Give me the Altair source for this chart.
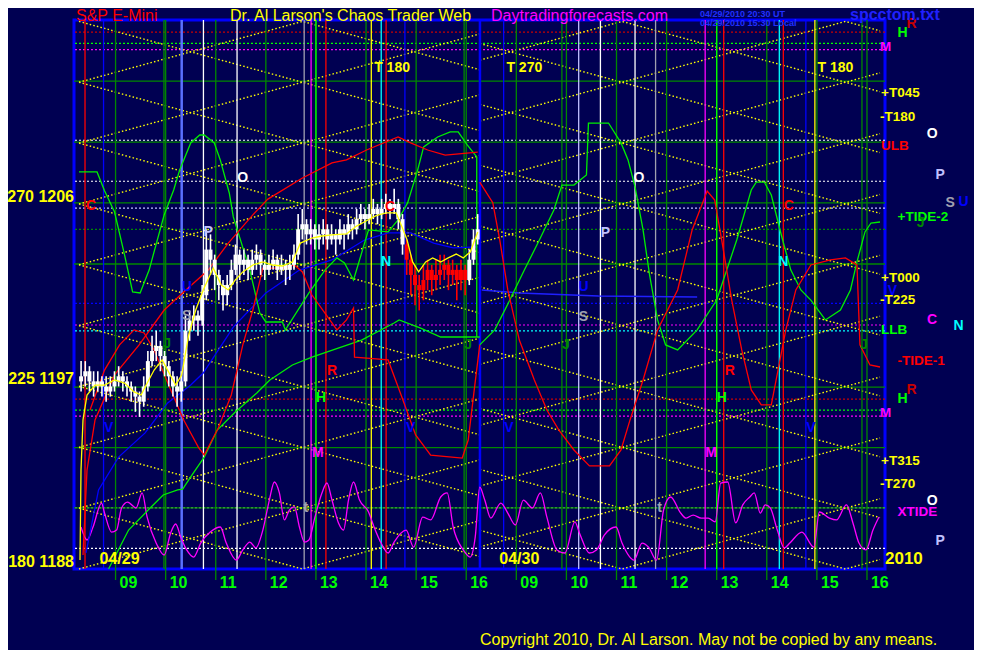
import altair as alt
import pandas as pd
import numpy as np

# ---------------------------------------------------------------- data
# time axis: hours after 09:00 on 04/29; the 04/30 session follows at +8 h
X_DOMAIN = [-0.73, 15.26]
Y_DOMAIN = [1188.0, 1215.07]

hour_ticks = list(range(16))
hour_labels = ["09", "10", "11", "12", "13", "14", "15", "16",
               "09", "10", "11", "12", "13", "14", "15", "16"]

price_levels = [1206, 1197, 1188]
price_labels = ["270 1206", "225 1197", "180 1188"]

# vertical timing lines
vline_time = [-0.61, -0.24, 0.966, 1.754, 2.425, 3.765, 3.903, 4.0, 4.199,
              5.105, 5.303, 5.401, 5.776, 6.958, 7.747, 8.91, 9.245, 9.679,
              10.37, 10.78, 11.77, 12.0, 12.14, 13.25, 13.33, 13.78, 13.96, 14.9]
vline_kind = ["red", "blue", "green", "white", "white", "grey", "mag", "lgreen", "red",
              "yel", "cyan", "red", "blue", "green", "blue", "green", "lav", "white",
              "white", "grey", "mag", "lgreen", "red", "cyan", "red", "blue", "yel", "green"]
vline_thick_time = [1.32, 7.274]
vline_thick_kind = ["lblue", "blue"]

# horizontal levels
hline_price = [1214.47, 1213.92, 1213.61, 1212.06, 1209.14, 1209.05, 1207.12, 1206.05,
               1205.79, 1204.75, 1203.04, 1201.10, 1200.03, 1199.74, 1196.97, 1196.38,
               1195.83, 1195.54, 1193.98, 1191.02, 1191.01, 1189.02]
hline_kind = ["dred", "lgreen", "mag", "green", "white", "green", "white", "green",
              "lav", "green", "green", "blue", "mag", "cyan", "green", "dred",
              "lgreen", "mag", "green", "white", "green", "white"]
hline_solid = [False, False, False, True, False, True, False, True,
               False, False, True, False, False, False, True, False,
               False, False, True, False, True, False]

# yellow cycle lattice
band_levels = [1188.0, 1191.0, 1194.0, 1197.0, 1200.0, 1203.0, 1206.0, 1209.0, 1212.0, 1215.0]
cycle_turns_day1 = [-0.73, 3.73, 8.19]
cycle_turns_day2 = [5.65, 10.11, 14.57, 19.03]
session_bounds = [(-0.73, 7.27), (7.27, 15.26)]

# 5-minute bars of 04/29
bar_first_open = 1197.25
bar_close = [1197.50, 1197.75, 1197.25, 1197.00, 1197.25, 1197.00, 1196.75, 1197.00, 1197.25, 1197.50,
             1197.25, 1197.00, 1196.75, 1196.50, 1196.25, 1197.00, 1198.25, 1198.75, 1199.00, 1198.50,
             1198.00, 1197.50, 1197.00, 1196.75, 1197.25, 1199.75, 1200.25, 1200.50, 1200.25, 1201.50,
             1203.75, 1203.25, 1202.50, 1202.00, 1201.50, 1202.00, 1202.75, 1203.50, 1203.00, 1203.25,
             1202.75, 1203.25, 1203.50, 1203.00, 1202.75, 1203.00, 1203.25, 1202.75, 1203.00, 1202.75,
             1203.00, 1203.50, 1204.75, 1205.00, 1204.50, 1204.75, 1204.25, 1204.50, 1204.75, 1204.25,
             1204.50, 1204.25, 1204.75, 1204.50, 1205.00, 1204.75, 1205.25, 1205.50, 1205.25, 1205.50,
             1205.75, 1205.50, 1205.75, 1206.00, 1205.75, 1206.00, 1205.25, 1204.00, 1203.25, 1202.50,
             1202.00, 1201.75, 1202.25, 1202.75, 1202.25, 1202.50, 1202.75, 1203.00, 1202.50, 1202.75,
             1202.25, 1202.75, 1202.25, 1203.25, 1204.25, 1204.75]
bar_high = [1198.25, 1198.25, 1198.00, 1197.75, 1197.75, 1197.50, 1197.50, 1197.50, 1197.75, 1198.00,
            1197.75, 1197.50, 1197.25, 1197.00, 1196.75, 1197.50, 1198.75, 1199.50, 1199.75, 1199.25,
            1198.75, 1198.25, 1197.75, 1197.50, 1197.75, 1200.50, 1200.75, 1201.00, 1200.75, 1202.00,
            1204.75, 1204.50, 1203.50, 1202.75, 1202.25, 1202.50, 1203.25, 1204.00, 1203.75, 1203.75,
            1203.50, 1203.75, 1204.00, 1203.75, 1203.25, 1203.50, 1203.75, 1203.50, 1203.50, 1203.25,
            1203.50, 1204.00, 1205.50, 1205.75, 1205.25, 1205.25, 1205.00, 1205.00, 1205.25, 1205.00,
            1205.00, 1204.75, 1205.25, 1205.00, 1205.50, 1205.25, 1205.75, 1206.00, 1205.75, 1206.00,
            1206.25, 1206.00, 1206.25, 1206.50, 1206.25, 1206.75, 1206.25, 1205.50, 1204.25, 1203.50,
            1203.00, 1202.50, 1203.00, 1203.25, 1203.00, 1203.25, 1203.50, 1203.50, 1203.25, 1203.25,
            1203.00, 1203.25, 1203.00, 1203.75, 1204.75, 1205.50]
bar_low = [1196.75, 1197.00, 1196.75, 1196.50, 1196.75, 1196.50, 1196.25, 1196.50, 1196.75, 1197.00,
           1196.75, 1196.50, 1196.25, 1195.75, 1195.50, 1196.00, 1196.75, 1198.00, 1198.25, 1197.75,
           1197.50, 1197.00, 1196.50, 1196.00, 1196.25, 1197.00, 1199.25, 1199.75, 1199.50, 1200.00,
           1201.25, 1202.50, 1201.75, 1201.25, 1200.75, 1201.00, 1201.75, 1202.50, 1202.25, 1202.50,
           1202.25, 1202.50, 1202.75, 1202.50, 1202.25, 1202.50, 1202.75, 1202.25, 1202.50, 1202.00,
           1202.25, 1202.75, 1203.25, 1204.25, 1204.00, 1204.00, 1203.75, 1203.75, 1204.00, 1203.75,
           1204.00, 1203.50, 1204.00, 1203.75, 1204.25, 1204.25, 1204.50, 1205.00, 1204.75, 1205.00,
           1205.25, 1205.00, 1205.25, 1205.50, 1205.25, 1205.50, 1204.75, 1203.50, 1202.50, 1201.50,
           1201.00, 1200.75, 1201.25, 1201.75, 1201.50, 1201.75, 1202.00, 1202.25, 1201.75, 1202.00,
           1201.25, 1201.75, 1201.50, 1202.00, 1203.00, 1204.00]
RED_BARS = (78, 92)

# moving average over the bars
ma_t = [-0.71, -0.69, -0.65, -0.57, -0.41, -0.22, -0.02, 0.18, 0.37, 0.51, 0.61, 0.77, 0.93, 1.06,
        1.20, 1.32, 1.46, 1.60, 1.75, 1.95, 2.11, 2.25, 2.39, 2.54, 2.74, 2.94, 3.13, 3.33, 3.53,
        3.69, 3.92, 4.12, 4.32, 4.61, 4.81, 5.01, 5.20, 5.40, 5.60, 5.70, 5.82, 5.93, 6.05, 6.19,
        6.33, 6.49, 6.64, 6.80, 6.94, 7.08, 7.23]
ma_p = [1188.44, 1192.88, 1195.35, 1196.58, 1197.07, 1197.07, 1197.32, 1197.17, 1196.73, 1196.58,
        1197.07, 1197.81, 1198.31, 1197.71, 1197.07, 1197.57, 1199.54, 1200.77, 1201.76, 1202.84,
        1202.00, 1201.76, 1202.25, 1202.65, 1202.99, 1203.14, 1202.99, 1202.94, 1203.14, 1204.07,
        1204.32, 1204.42, 1204.47, 1204.52, 1204.91, 1205.17, 1205.42, 1205.56, 1205.56, 1204.97,
        1204.22, 1203.14, 1202.65, 1203.14, 1203.34, 1203.14, 1203.34, 1203.53, 1203.34, 1203.63,
        1204.62]

red1_t = [-0.65, -0.57, -0.41, -0.02, 0.47, 0.97, 1.36, 1.85, 2.25, 2.74, 3.04, 3.73, 4.32, 4.61,
          5.01, 5.64, 5.89, 6.23, 6.58, 7.23]
red1_p = [1188.69, 1192.88, 1195.35, 1197.57, 1199.05, 1200.77, 1201.66, 1202.74, 1204.07, 1205.46,
          1206.24, 1207.28, 1208.02, 1208.17, 1208.66, 1209.30, 1209.01, 1208.66, 1208.41, 1208.56]

red2_t = [-0.51, -0.22, 0.08, 0.37, 0.57, 0.77, 1.06, 1.36, 1.66, 1.77, 2.05, 2.31, 2.54, 2.74,
          2.94, 3.33, 3.57, 3.73, 3.92, 4.18, 4.42, 4.61, 4.75, 4.77, 5.44, 5.70, 5.99, 6.29,
          6.92, 7.04, 7.16, 7.27]
red2_p = [1195.84, 1197.81, 1199.05, 1199.79, 1199.64, 1198.80, 1197.07, 1195.35, 1193.97, 1193.62,
          1194.95, 1196.58, 1199.05, 1200.77, 1202.84, 1202.84, 1202.99, 1202.65, 1201.51, 1200.62,
          1199.79, 1200.28, 1200.87, 1198.45, 1198.31, 1196.58, 1194.61, 1193.62, 1193.47, 1194.36,
          1196.83, 1199.05]

red3_t = [7.27, 7.53, 7.67, 7.83, 8.06, 8.36, 8.61, 8.85, 9.15, 9.46, 9.86, 10.09, 10.27, 10.53,
          10.82, 11.22, 11.51, 11.81, 11.96, 12.10, 12.30, 12.50, 12.69, 12.89, 13.09, 13.38,
          13.58, 13.88, 14.27, 14.57, 14.80, 14.86, 15.06, 15.26]
red3_p = [1207.08, 1206.06, 1204.22, 1201.76, 1199.29, 1197.32, 1195.84, 1194.85, 1193.87, 1193.08,
          1193.08, 1193.87, 1195.35, 1197.32, 1199.79, 1201.76, 1204.72, 1206.64, 1206.19, 1204.22,
          1201.26, 1198.80, 1196.83, 1196.09, 1196.09, 1199.79, 1201.76, 1202.99, 1203.24, 1203.34,
          1202.99, 1199.05, 1198.06, 1197.96]

green1_t = [-0.73, -0.37, -0.22, -0.02, 0.18, 0.34, 0.49, 0.67, 0.97, 1.16, 1.28, 1.50, 1.68, 1.77,
            1.97, 2.09, 2.27, 2.35, 2.68, 2.88, 3.00, 3.33, 3.39, 3.86, 4.18, 4.42, 4.57, 4.75,
            5.05, 5.44, 5.64, 5.83, 6.03, 6.15, 6.43, 6.68, 6.84, 7.02, 7.21, 7.21]
green1_p = [1207.58, 1207.58, 1206.65, 1205.60, 1203.48, 1201.66, 1201.61, 1202.74, 1205.46, 1206.69,
            1207.67, 1209.01, 1209.40, 1209.40, 1209.01, 1208.17, 1206.54, 1205.36, 1202.74, 1200.62,
            1200.18, 1200.18, 1199.79, 1201.61, 1202.74, 1203.34, 1203.09, 1202.25, 1204.72, 1204.62,
            1205.21, 1206.05, 1207.67, 1208.81, 1209.30, 1209.55, 1209.55, 1208.91, 1208.32, 1199.44]

green2_t = [7.27, 7.57, 7.87, 8.16, 8.46, 8.75, 8.91, 9.15, 9.40, 9.44, 9.84, 10.09, 10.23, 10.37,
            10.53, 10.66, 10.82, 10.98, 11.22, 11.61, 12.00, 12.40, 12.69, 12.79, 12.95, 13.09,
            13.29, 13.48, 13.68, 13.88, 14.17, 14.47, 14.67, 14.80, 14.96, 15.08, 15.26]
green2_p = [1199.05, 1199.79, 1201.26, 1202.74, 1204.22, 1205.70, 1206.93, 1206.93, 1207.43, 1209.99,
            1209.99, 1209.01, 1208.17, 1206.84, 1204.72, 1202.50, 1200.28, 1199.05, 1198.80, 1199.79,
            1201.26, 1204.22, 1206.69, 1207.08, 1207.08, 1206.44, 1204.47, 1202.74, 1201.76, 1201.26,
            1200.28, 1200.77, 1201.76, 1203.14, 1204.62, 1205.06, 1205.11]

green3_t = [-0.14, 0.26, 0.71, 0.95, 1.24, 1.34, 1.50, 1.77, 2.03, 2.37, 2.82, 3.08, 3.53, 3.92,
            4.91, 5.56, 5.66, 6.09, 6.49, 7.27]
green3_p = [1188.00, 1189.92, 1191.06, 1191.65, 1191.90, 1191.94, 1192.54, 1193.52, 1194.85, 1195.69,
            1196.68, 1197.32, 1198.06, 1198.45, 1199.29, 1200.13, 1200.28, 1199.88, 1199.44, 1199.44]

blue1_t = [-0.59, -0.34, 0.06, 0.59, 1.04, 1.50, 1.75, 2.35, 3.00, 3.67, 4.32, 4.97, 5.44, 5.89,
           6.35, 6.74, 7.23]
blue1_p = [1188.79, 1191.90, 1193.52, 1194.71, 1196.19, 1197.07, 1197.66, 1199.93, 1201.61, 1202.74,
           1203.24, 1204.22, 1204.57, 1204.57, 1204.07, 1203.83, 1203.88]
blue2_t = [7.31, 8.06, 9.64, 11.61]
blue2_p = [1201.76, 1201.61, 1201.46, 1201.41]

xtide_t = [-0.69, -0.57, -0.45, -0.28, -0.22, -0.08, 0.02, 0.12, 0.24, 0.41, 0.53, 0.63, 0.81, 0.97,
           1.10, 1.20, 1.30, 1.42, 1.56, 1.70, 1.89, 2.09, 2.21, 2.41, 2.54, 2.68, 2.80, 2.94, 3.07,
           3.17, 3.27, 3.37, 3.47, 3.57, 3.67, 3.77, 3.86, 3.98, 4.12, 4.22, 4.32, 4.45, 4.55, 4.65,
           4.75, 4.87, 5.05, 5.16, 5.30, 5.44, 5.56, 5.80, 5.95, 6.13, 6.29, 6.49, 6.62, 6.74, 6.94,
           7.08, 7.18, 7.27, 7.37, 7.49, 7.69, 7.83, 7.98, 8.14, 8.32, 8.48, 8.61, 8.81, 8.97, 9.17,
           9.26, 9.46, 9.60, 9.76, 9.99, 10.11, 10.35, 10.51, 10.64, 10.80, 10.94, 11.08, 11.28,
           11.39, 11.53, 11.69, 11.83, 11.97, 12.08, 12.22, 12.38, 12.52, 12.66, 12.75, 12.87, 12.97,
           13.07, 13.21, 13.35, 13.46, 13.70, 13.94, 14.05, 14.25, 14.39, 14.59, 14.72, 14.84, 14.98,
           15.12, 15.24]
xtide_p = [1190.07, 1189.43, 1190.07, 1191.25, 1190.76, 1189.82, 1189.92, 1191.01, 1191.30, 1191.01,
           1191.75, 1190.56, 1189.28, 1188.69, 1189.78, 1190.22, 1189.58, 1188.94, 1188.59, 1189.28,
           1189.82, 1190.07, 1189.28, 1188.44, 1188.94, 1189.33, 1189.04, 1189.92, 1191.40, 1192.29,
           1191.75, 1190.42, 1190.91, 1191.06, 1190.07, 1189.33, 1189.43, 1190.56, 1191.75, 1192.24,
           1191.40, 1190.27, 1189.92, 1191.40, 1192.29, 1191.40, 1190.81, 1190.07, 1189.28, 1188.79,
           1189.33, 1189.92, 1189.08, 1190.56, 1190.42, 1191.55, 1191.75, 1190.07, 1188.94, 1188.59,
           1189.58, 1192.04, 1191.40, 1190.51, 1191.25, 1190.76, 1190.17, 1191.40, 1191.01, 1191.75,
           1190.56, 1188.94, 1188.79, 1190.32, 1189.78, 1188.79, 1188.94, 1189.68, 1190.07, 1189.28,
           1188.44, 1189.28, 1189.08, 1188.44, 1190.91, 1191.55, 1190.76, 1190.51, 1190.66, 1190.51,
           1190.51, 1190.32, 1192.24, 1192.29, 1190.27, 1191.16, 1191.55, 1191.75, 1190.76, 1191.16,
           1191.01, 1189.92, 1189.04, 1189.28, 1189.82, 1189.08, 1190.81, 1190.51, 1190.42, 1191.16,
           1190.27, 1189.28, 1188.94, 1189.92, 1190.56]

# planet letters in the plot
glyph_text = ["O", "C", "C", "P", "U", "S", "J", "J", "N", "V", "V", "H", "R", "M", "t",
              "O", "C", "P", "U", "S", "J", "J", "N", "V", "V", "H", "R", "M", "t"]
glyph_t = [2.54, -0.49, 5.48, 1.85, 1.42, 1.42, 1.03, 7.04, 5.40, -0.14, 5.89, 4.10, 4.32, 4.04, 3.80,
           10.45, 13.44, 9.78, 9.34, 9.34, 8.99, 14.94, 13.33, 7.85, 13.88, 12.10, 12.26, 11.89, 10.86]
glyph_p = [1207.28, 1205.90, 1205.85, 1204.62, 1201.91, 1200.48, 1199.09, 1199.05, 1203.14, 1194.95,
           1194.95, 1196.43, 1197.76, 1193.72, 1191.01,
           1207.28, 1205.90, 1204.57, 1201.91, 1200.43, 1199.05, 1199.05, 1203.14, 1194.95, 1194.95,
           1196.43, 1197.76, 1193.72, 1191.01]
glyph_kind = ["white", "red", "red", "lav", "blue", "grey", "green", "green", "cyan", "blue", "blue",
              "lgreen", "red", "mag", "grey",
              "white", "red", "lav", "blue", "grey", "green", "green", "cyan", "blue", "blue",
              "lgreen", "red", "mag", "grey"]

# right margin labels
rlab_text = ["M", "+T045", "-T180", "ULB", "+TIDE-2", "+T000", "-T225", "LLB", "-TIDE-1", "M",
             "+T315", "-T270", "XTIDE"]
rlab_t = [15.26, 15.28, 15.26, 15.28, 15.61, 15.28, 15.26, 15.28, 15.61, 15.26, 15.28, 15.26, 15.61]
rlab_p = [1213.74, 1211.47, 1210.29, 1208.86, 1205.36, 1202.35, 1201.26, 1199.79, 1198.26, 1195.69,
          1193.33, 1192.19, 1190.81]
rlab_kind = ["mag", "yel", "yel", "red", "lgreen", "yel", "yel", "lgreen", "red", "mag",
             "yel", "yel", "mag"]

rglyph_text = ["R", "H", "O", "P", "S", "U", "J", "V", "C", "N", "R", "H", "O", "P"]
rglyph_t = [15.89, 15.71, 16.30, 16.46, 16.66, 16.93, 16.07, 15.51, 16.30, 16.83, 15.89, 15.71,
            16.30, 16.46]
rglyph_p = [1214.87, 1214.43, 1209.45, 1207.43, 1206.05, 1206.10, 1205.06, 1201.71, 1200.28, 1199.98,
            1196.83, 1196.38, 1191.35, 1189.38]
rglyph_kind = ["dred", "lgreen", "white", "lav", "grey", "blue", "green", "blue", "mag", "cyan",
               "dred", "lgreen", "white", "lav"]

cycle_text = ["T  180", "T  270", "T  180"]
cycle_t = [5.52, 8.16, 14.37]
cycle_p = [1212.70, 1212.70, 1212.70]

date_text = ["04/29", "04/30"]
date_t = [0.08, 8.06]
date_p = [1188.49, 1188.49]

# ---------------------------------------------------------------- style
BG = "#000052"
COLORS = {"red": "#ff0000", "dred": "#c80000", "blue": "#0000ff", "lblue": "#5a70ff",
          "green": "#008800", "lgreen": "#00ff00", "white": "#ffffff", "grey": "#a0a0b0",
          "lav": "#c0c0ff", "mag": "#ff00ff", "yel": "#ffff00", "cyan": "#00ffff"}
CSCALE = alt.Scale(domain=list(COLORS.keys()), range=list(COLORS.values()))
XS = alt.Scale(domain=X_DOMAIN, nice=False, zero=False)
YS = alt.Scale(domain=Y_DOMAIN, nice=False, zero=False)
FONT = "Liberation Sans"
W, H = 811, 549


def X(f="t"):
    return alt.X(f"{f}:Q", scale=XS, axis=None)


def Y(f="p"):
    return alt.Y(f"{f}:Q", scale=YS, axis=None)


def C(f="kind"):
    return alt.Color(f"{f}:N", scale=CSCALE, legend=None)


def curve(ts, ps, color, width=1.3, interp="linear"):
    df = pd.DataFrame({"t": ts, "p": ps, "i": range(len(ts))})
    return alt.Chart(df).mark_line(color=color, strokeWidth=width, interpolate=interp).encode(
        x=X(), y=Y(), order=alt.Order("i:Q"))


# ---------------------------------------------------------------- layers
hdf = pd.DataFrame({"p": hline_price, "kind": hline_kind, "solid": hline_solid})
h_dotted = alt.Chart(hdf[~hdf.solid]).mark_rule(strokeWidth=1.2, strokeDash=[2, 2]).encode(
    y=Y(), color=C())
h_solid = alt.Chart(hdf[hdf.solid]).mark_rule(strokeWidth=1.3).encode(y=Y(), color=C())

# lattice
rows = []
lid = 0
for (s0, s1), turns, first_top in zip(session_bounds, [cycle_turns_day1, cycle_turns_day2],
                                       [True, False]):
    for lo, hi in zip(band_levels[:-1], band_levels[1:]):
        for ph in (0, 1):
            top = first_top if ph == 0 else (not first_top)
            lv = [(hi if ((i % 2 == 0) == top) else lo) for i in range(len(turns))]
            xs = [s0] + [t for t in turns if s0 < t < s1] + [s1]
            ys = np.interp(xs, turns, lv)
            for j, (a, b) in enumerate(zip(xs, ys)):
                rows.append({"t": a, "p": b, "id": lid, "i": j})
            lid += 1
lat = alt.Chart(pd.DataFrame(rows)).mark_line(
    color="#ffff00", strokeWidth=1.4, strokeDash=[1.5, 2.2]).encode(
    x=X(), y=Y(), detail="id:N", order=alt.Order("i:Q"))

hour_df = pd.DataFrame({"t": hour_ticks, "lab": hour_labels})
hour_lines = alt.Chart(hour_df).mark_rule(color="#008800", strokeWidth=1.3).encode(
    x=X(), y=alt.value(0), y2=alt.value(H + 11))
hour_text = alt.Chart(hour_df).mark_text(
    font=FONT, fontSize=16, fontWeight="bold", color="#00ff00", align="left",
    baseline="middle", dx=4).encode(x=X(), y=alt.value(H + 14), text="lab:N")

vdf = pd.DataFrame({"t": vline_time, "kind": vline_kind})
vlines = alt.Chart(vdf).mark_rule(strokeWidth=1.3).encode(x=X(), color=C())
vtdf = pd.DataFrame({"t": vline_thick_time, "kind": vline_thick_kind})
vthick = alt.Chart(vtdf).mark_rule(strokeWidth=2.5).encode(x=X(), color=C())

# candles
nb = len(bar_close)
bar_t = [-0.73 + (k + 0.5) / 12.0 for k in range(nb)]
bar_open = [bar_first_open] + bar_close[:-1]
bar_kind = ["red" if RED_BARS[0] <= k <= RED_BARS[1] else "white" for k in range(nb)]
cdf = pd.DataFrame({"t": bar_t, "o": bar_open, "h": bar_high, "l": bar_low, "c": bar_close,
                    "kind": bar_kind})
wicks = alt.Chart(cdf).mark_rule(strokeWidth=1.6).encode(
    x=X(), y=Y("l"), y2=alt.Y2("h:Q"), color=C())
bodies = alt.Chart(cdf).mark_bar(size=4).encode(
    x=X(), y=Y("o"), y2=alt.Y2("c:Q"), color=C())

curves = [
    curve(xtide_t, xtide_p, "#ff00ff", 1.3, "monotone"),
    curve(blue1_t, blue1_p, "#0000ff", 1.3),
    curve(blue2_t, blue2_p, "#2020ff", 1.5),
    curve(green3_t, green3_p, "#00ee00", 1.3),
    curve(green1_t, green1_p, "#00ee00", 1.3),
    curve(green2_t, green2_p, "#00ee00", 1.3),
    curve(red1_t, red1_p, "#ff0000", 1.3),
    curve(red2_t, red2_p, "#ff0000", 1.3),
    curve(red3_t, red3_p, "#ff0000", 1.3),
]
ma_line = curve(ma_t, ma_p, "#ffff00", 1.3)

gdf = pd.DataFrame({"t": glyph_t, "p": glyph_p, "s": glyph_text, "kind": glyph_kind})
glyphs = alt.Chart(gdf).mark_text(font=FONT, fontSize=14, fontWeight="bold",
                                  baseline="middle").encode(x=X(), y=Y(), text="s:N", color=C())

rldf = pd.DataFrame({"t": rlab_t, "p": rlab_p, "s": rlab_text, "kind": rlab_kind})
rlabels = alt.Chart(rldf).mark_text(font=FONT, fontSize=13.5, fontWeight="bold", align="left",
                                    baseline="middle").encode(x=X(), y=Y(), text="s:N", color=C())
rgdf = pd.DataFrame({"t": rglyph_t, "p": rglyph_p, "s": rglyph_text, "kind": rglyph_kind})
rglyphs = alt.Chart(rgdf).mark_text(font=FONT, fontSize=14, fontWeight="bold",
                                    baseline="middle").encode(x=X(), y=Y(), text="s:N", color=C())

year_lab = alt.Chart(pd.DataFrame({"t": [15.36], "p": [1188.49], "s": ["2010"]})).mark_text(
    font=FONT, fontSize=17, fontWeight="bold", color="#ffff00", align="left",
    baseline="middle").encode(x=X(), y=Y(), text="s:N")

cyc = alt.Chart(pd.DataFrame({"t": cycle_t, "p": cycle_p, "s": cycle_text})).mark_text(
    font=FONT, fontSize=14, fontWeight="bold", color="#ffff00", baseline="middle").encode(
    x=X(), y=Y(), text="s:N")
dates = alt.Chart(pd.DataFrame({"t": date_t, "p": date_p, "s": date_text})).mark_text(
    font=FONT, fontSize=16, fontWeight="bold", color="#ffff00", baseline="middle").encode(
    x=X(), y=Y(), text="s:N")

left_df = pd.DataFrame({"p": price_levels, "s": price_labels})
left_lab = alt.Chart(left_df).mark_text(
    font=FONT, fontSize=16, fontWeight="bold", color="#ffff00", align="right",
    baseline="middle", dy=-7).encode(x=alt.value(0), y=Y(), text="s:N")


def header(txt, x, y, color, size, weight="normal"):
    return alt.Chart(pd.DataFrame({"s": [txt]})).mark_text(
        font=FONT, fontSize=size, fontWeight=weight, color=color, align="left",
        baseline="alphabetic").encode(x=alt.value(x), y=alt.value(y), text="s:N")


headers = [
    header("S&P E-Mini", 2, 0.5, "#ff0000", 16),
    header("Dr. Al Larson's Chaos Trader Web", 156, 0.5, "#ffff00", 16),
    header("Daytradingforecasts.com", 417, 0.5, "#ff00ff", 16),
    header("04/29/2010 20:30 UT", 626, -3.5, "#2030ff", 9, "bold"),
    header("04/29/2010 15:30 Local", 626, 5.5, "#2030ff", 9, "bold"),
    header("spcctom.txt", 776, 0, "#2020ff", 16, "bold"),
    header("Copyright 2010, Dr. Al Larson. May not be copied by any means.", 406, 625,
           "#ffff00", 16),
]

chart = alt.layer(
    h_dotted, h_solid, lat, hour_lines, vlines, vthick, *curves, wicks, bodies, ma_line,
    glyphs, rlabels, rglyphs, year_lab, cyc, dates, left_lab, hour_text, *headers
).properties(
    width=W, height=H, background=BG,
    padding={"left": 66, "top": 12, "right": 89, "bottom": 81},
    autosize=alt.AutoSizeParams(type="none"),
).configure_view(stroke="#0000ff", strokeWidth=3)

chart.save("out.html", embed_options={"renderer": "svg", "actions": False})
